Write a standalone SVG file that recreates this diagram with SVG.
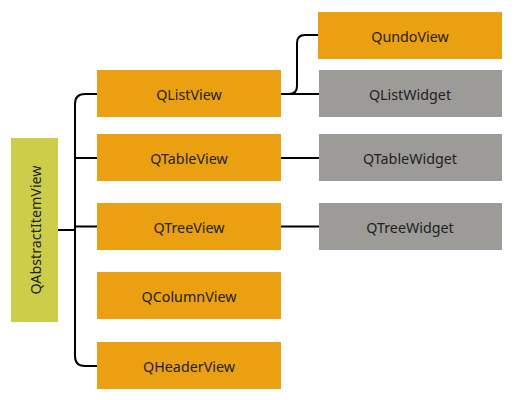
<svg xmlns="http://www.w3.org/2000/svg" width="525" height="400" viewBox="0 0 525 400">
<style>
.o{fill:#eba012}
.g{fill:#9c9b97}
.y{fill:#ccce4a}
text{font-family:"Noto Sans","Open Sans","Liberation Sans",sans-serif;font-size:14.3px;fill:#222;text-anchor:middle;dominant-baseline:central}
.c{fill:none;stroke:#000;stroke-width:2}
</style>
<rect width="525" height="400" fill="#fff"/>
<g id="connectors">
<path class="c" d="M58 230H75"/>
<path class="c" d="M97 94H85Q75 94 75 104V356Q75 366 85 366H97"/>
<path class="c" d="M75 158H97"/>
<path class="c" d="M75 226.5H97"/>
<path class="c" d="M281 94H319"/>
<path class="c" d="M281 94H289Q297 94 297 86V43Q297 35 305 35H318"/>
<path class="c" d="M281 158H319"/>
<path class="c" d="M281 226.5H319"/>
</g>
<g id="QAbstractItemView"><rect class="y" x="11" y="138" width="47" height="184"/><text transform="translate(35 230) rotate(-90)">QAbstractItemView</text></g>
<g id="QListView"><rect class="o" x="97" y="70" width="184" height="47"/><text x="189" y="94">QListView</text></g>
<g id="QTableView"><rect class="o" x="97" y="134" width="184" height="47"/><text x="189" y="158">QTableView</text></g>
<g id="QTreeView"><rect class="o" x="97" y="203" width="184" height="47"/><text x="189" y="227">QTreeView</text></g>
<g id="QColumnView"><rect class="o" x="97" y="272" width="184" height="47"/><text x="189" y="296">QColumnView</text></g>
<g id="QHeaderView"><rect class="o" x="97" y="342" width="184" height="47"/><text x="189" y="366">QHeaderView</text></g>
<g id="QundoView"><rect class="o" x="318" y="12" width="184" height="47"/><text x="410" y="36">QundoView</text></g>
<g id="QListWidget"><rect class="g" x="319" y="70" width="183" height="47"/><text x="410" y="94">QListWidget</text></g>
<g id="QTableWidget"><rect class="g" x="319" y="134" width="183" height="47"/><text x="410" y="158">QTableWidget</text></g>
<g id="QTreeWidget"><rect class="g" x="319" y="203" width="183" height="47"/><text x="410" y="227">QTreeWidget</text></g>
</svg>
